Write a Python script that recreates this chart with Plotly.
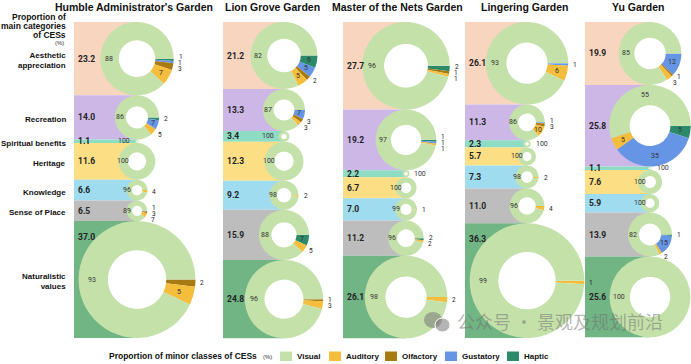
import numpy as np
import plotly.graph_objects as go

# ---------------- data ----------------
gardens = ["Humble Administrator's Garden", "Lion Grove Garden",
           "Master of the Nets Garden", "Lingering Garden", "Yu Garden"]
categories = ["Aesthetic appreciation", "Recreation", "Spiritual benefits",
              "Heritage", "Knowledge", "Sense of Place", "Naturalistic values"]
category_ticks = ["Aesthetic<br>appreciation", "Recreation", "Spiritual benefits",
                  "Heritage", "Knowledge", "Sense of Place", "Naturalistic<br>values"]
minor_classes = ["Visual", "Auditory", "Olfactory", "Gustatory", "Haptic"]

# proportion of main categories (%), in category order
humble_main = [23.2, 14.0, 1.1, 11.6, 6.6, 6.5, 37.0]
lion_main = [21.2, 13.3, 3.4, 12.3, 9.2, 15.9, 24.8]
master_main = [27.7, 19.2, 2.2, 6.7, 7.0, 11.2, 26.1]
lingering_main = [26.1, 11.3, 2.3, 5.7, 7.3, 11.0, 36.3]
yu_main = [19.9, 25.8, 1.1, 7.6, 5.9, 13.9, 25.6]

# proportion of minor classes (%) per category: [Visual, Auditory, Olfactory, Gustatory, Haptic]
humble_minor = [[88, 7, 3, 1, 1], [86, 5, 0, 7, 2], [100, 0, 0, 0, 0], [100, 0, 0, 0, 0],
                [96, 4, 0, 0, 0], [89, 7, 3, 1, 0], [93, 5, 2, 0, 0]]
lion_minor = [[82, 5, 2, 5, 6], [87, 3, 3, 7, 0], [100, 0, 0, 0, 0], [100, 0, 0, 0, 0],
              [98, 2, 0, 0, 0], [88, 5, 0, 0, 7], [96, 3, 1, 0, 0]]
master_minor = [[96, 1, 1, 0, 2], [97, 1, 0, 1, 1], [100, 0, 0, 0, 0], [100, 0, 0, 0, 0],
                [99, 1, 0, 0, 0], [96, 2, 0, 0, 2], [98, 2, 0, 0, 0]]
lingering_minor = [[93, 6, 0, 1, 0], [86, 10, 3, 1, 0], [100, 0, 0, 0, 0], [100, 0, 0, 0, 0],
                   [98, 2, 0, 0, 0], [96, 4, 0, 0, 0], [99, 1, 0, 0, 0]]
yu_minor = [[85, 3, 1, 12, 0], [55, 5, 0, 35, 5], [100, 0, 0, 0, 0], [100, 0, 0, 0, 0],
            [100, 0, 0, 0, 0], [82, 2, 0, 15, 1], [100, 0, 0, 0, 0]]

mains = [humble_main, lion_main, master_main, lingering_main, yu_main]
minors = [humble_minor, lion_minor, master_minor, lingering_minor, yu_minor]

# ---------------- styles / layout ----------------
cat_colors = ['#f8d5bf', '#cdb7e7', '#8fdcc4', '#fcdf85', '#a0dcf0', '#bdbdbd', '#72b585']
minor_colors = {'Visual': '#c5e1aa', 'Auditory': '#f5bd3c', 'Olfactory': '#a87b12',
                'Gustatory': '#6695e6', 'Haptic': '#2c8a6a'}

W, H = 691, 364
TOP, SCALE = 22.0, 3.16          # pixel of 0 %, pixels per 1 %
HOLE = 0.5
col_left = [74, 223, 343, 465, 585]
ring_cx = [137, 284, 406, 527, 650]
title_x = [134, 272, 397, 525, 638]
small_side = [-1, -1, 1, 1, 1]
legend_x = [280, 329, 385, 445, 507]

TXT = 'Arial'
NUM = 'Roboto'


def to_y(px):
    return (px - TOP) / SCALE


fig = go.Figure()

# stacked bars of main categories
bar_x = [(l + c) / 2 for l, c in zip(col_left, ring_cx)]
bar_w = [c - l for l, c in zip(col_left, ring_cx)]
for ci in range(len(categories)):
    vals = [m[ci] for m in mains]
    bases = [float(np.sum(m[:ci])) for m in mains]
    fig.add_trace(go.Bar(x=bar_x, y=vals, base=bases, width=bar_w,
                         marker=dict(color=cat_colors[ci], line=dict(width=0)),
                         hoverinfo='skip', showlegend=False, name=categories[ci]))

# white fill behind donut holes
hx, hy, hs = [], [], []
for g in range(5):
    cum = 0.0
    for c in range(7):
        v = mains[g][c]
        hx.append(ring_cx[g])
        hy.append(cum + v / 2)
        hs.append(HOLE * v * SCALE + 1)
        cum += v
fig.add_trace(go.Scatter(x=hx, y=hy, mode='markers',
                         marker=dict(size=hs, color='white', opacity=1, line=dict(width=0)),
                         hoverinfo='skip', showlegend=False, cliponaxis=False))

ann = []
order = list(reversed(minor_classes))   # Haptic, Gustatory, Olfactory, Auditory, Visual

for g in range(5):
    cum = 0.0
    cx = ring_cx[g]
    for c in range(7):
        v = mains[g][c]
        R = v * SCALE / 2
        cy = TOP + (cum + v / 2) * SCALE
        seq = list(reversed(minors[g][c]))
        fig.add_trace(go.Pie(
            values=seq, labels=order, sort=False, direction='clockwise', rotation=90,
            hole=HOLE, textinfo='none', hoverinfo='skip', showlegend=False,
            marker=dict(colors=[minor_colors[k] for k in order], line=dict(width=0)),
            domain=dict(x=[(cx - R) / W, (cx + R) / W],
                        y=[1 - (cy + R) / H, 1 - (cy - R) / H])))

        # value of main category
        if cx - R < col_left[g] + 15:
            ly = TOP + cum * SCALE + 16
        else:
            ly = cy
        ann.append(dict(x=col_left[g] + 2, y=to_y(ly), xref='x', yref='y',
                        text=f"{v:.1f}", xanchor='left', yanchor='middle', showarrow=False,
                        font=dict(size=8.5, family=NUM, color='#222', weight='bold')))

        # minor class labels
        total = float(sum(seq))
        start = 0.0
        outs = []
        for k, val in enumerate(seq):
            if val == 0:
                continue
            frac = val / total
            mid = (start + frac / 2) * 2 * np.pi
            start += frac
            name = order[k]
            if name == 'Visual':
                if R < 6:
                    side = small_side[g]
                    ann.append(dict(x=cx + side * (R + 3), y=to_y(cy), xref='x', yref='y',
                                    text=str(val), showarrow=False,
                                    xanchor='left' if side > 0 else 'right', yanchor='middle',
                                    font=dict(size=7, family=NUM, color='#333')))
                    continue
                theta = np.pi if val >= 80 else mid
                rr = max(0.77 * R, 10)
                ann.append(dict(x=cx + rr * np.cos(theta), y=to_y(cy + rr * np.sin(theta)),
                                xref='x', yref='y', text=str(val), showarrow=False,
                                xanchor='center', yanchor='middle',
                                font=dict(size=7, family=NUM, color='#333')))
            else:
                arc = 2 * np.pi * 0.75 * R * frac
                if arc >= 6.5:
                    rr = 0.75 * R
                    ann.append(dict(x=cx + rr * np.cos(mid), y=to_y(cy + rr * np.sin(mid)),
                                    xref='x', yref='y', text=str(val), showarrow=False,
                                    xanchor='center', yanchor='middle',
                                    font=dict(size=7, family=NUM, color='#333')))
                else:
                    outs.append([cx + (R + 3) * np.cos(mid), cy + (R + 4) * np.sin(mid), val])
        if outs:
            desired = [o[1] for o in outs]
            ys = []
            for d in desired:
                ys.append(d if not ys else max(d, ys[-1] + 6))
            shift = np.mean(ys) - np.mean(desired)
            for o, yv in zip(outs, ys):
                ann.append(dict(x=o[0], y=to_y(yv - shift), xref='x', yref='y',
                                text=str(o[2]), showarrow=False,
                                xanchor='left', yanchor='middle',
                                font=dict(size=6.5, family=NUM, color='#222')))
        cum += v

# garden titles
for g in range(5):
    ann.append(dict(x=title_x[g], y=to_y(6.5), xref='x', yref='y', text=gardens[g],
                    showarrow=False, xanchor='center', yanchor='middle',
                    font=dict(size=10.5, family=TXT, color='#111', weight='bold')))

# left header
for txt, ypx in [("Proportion of", 17), ("main categories", 26), ("of CESs", 34.5)]:
    ann.append(dict(x=68, y=to_y(ypx), xref='x', yref='y', text=txt, showarrow=False,
                    xanchor='right', yanchor='middle',
                    font=dict(size=8.5, family=TXT, color='#111', weight='bold')))
ann.append(dict(x=66, y=to_y(43), xref='x', yref='y', text="(%)", showarrow=False,
                xanchor='right', yanchor='middle', font=dict(size=6, family=TXT, color='#333')))

# category labels aligned with first garden's segments
cum = 0.0
for c in range(7):
    v = humble_main[c]
    ann.append(dict(x=68, y=cum + v / 2 + 0.6, xref='x', yref='y', text=category_ticks[c],
                    showarrow=False, xanchor='right', yanchor='middle', align='right',
                    font=dict(size=8, family=TXT, color='#111', weight='bold')))
    cum += v

# bottom legend
ann.append(dict(x=107, y=to_y(356), xref='x', yref='y',
                text="Proportion of minor classes of CESs", showarrow=False,
                xanchor='left', yanchor='middle',
                font=dict(size=8.5, family=TXT, color='#111', weight='bold')))
ann.append(dict(x=261, y=to_y(357), xref='x', yref='y', text="(%)", showarrow=False,
                xanchor='left', yanchor='middle', font=dict(size=6, family=TXT, color='#333')))
shapes = []
for k, name in enumerate(minor_classes):
    x0 = legend_x[k]
    shapes.append(dict(type='rect', xref='x', yref='y', x0=x0, x1=x0 + 12,
                       y0=to_y(351.5), y1=to_y(361), fillcolor=minor_colors[name],
                       line=dict(width=0), layer='above'))
    ann.append(dict(x=x0 + 15, y=to_y(356.5), xref='x', yref='y', text=name, showarrow=False,
                    xanchor='left', yanchor='middle',
                    font=dict(size=8, family=TXT, color='#111', weight='bold')))

# watermark
shapes.append(dict(type='circle', xref='x', yref='y', x0=424, x1=442, y0=to_y(312), y1=to_y(328),
                   fillcolor='rgba(120,120,120,0.55)', line=dict(width=0), layer='above'))
shapes.append(dict(type='circle', xref='x', yref='y', x0=435, x1=450, y0=to_y(318), y1=to_y(332),
                   fillcolor='rgba(120,120,120,0.55)', line=dict(color='white', width=1), layer='above'))
ann.append(dict(x=560, y=to_y(321), xref='x', yref='y', text="公众号 · 景观及规划前沿",
                showarrow=False, xanchor='center', yanchor='middle',
                font=dict(size=18, family='Noto Sans CJK SC', color='rgba(110,110,110,0.5)')))

fig.update_layout(
    width=W, height=H, margin=dict(l=0, r=0, t=0, b=0),
    paper_bgcolor='white', plot_bgcolor='rgba(0,0,0,0)',
    barmode='overlay', showlegend=False,
    xaxis=dict(range=[0, W], visible=False, fixedrange=True),
    yaxis=dict(range=[to_y(H), to_y(0)], visible=False, fixedrange=True),
    annotations=ann, shapes=shapes,
)

fig.write_html("out.html", config={'displayModeBar': False},
               post_script="document.body.style.margin='0';document.body.style.overflow='hidden';")
